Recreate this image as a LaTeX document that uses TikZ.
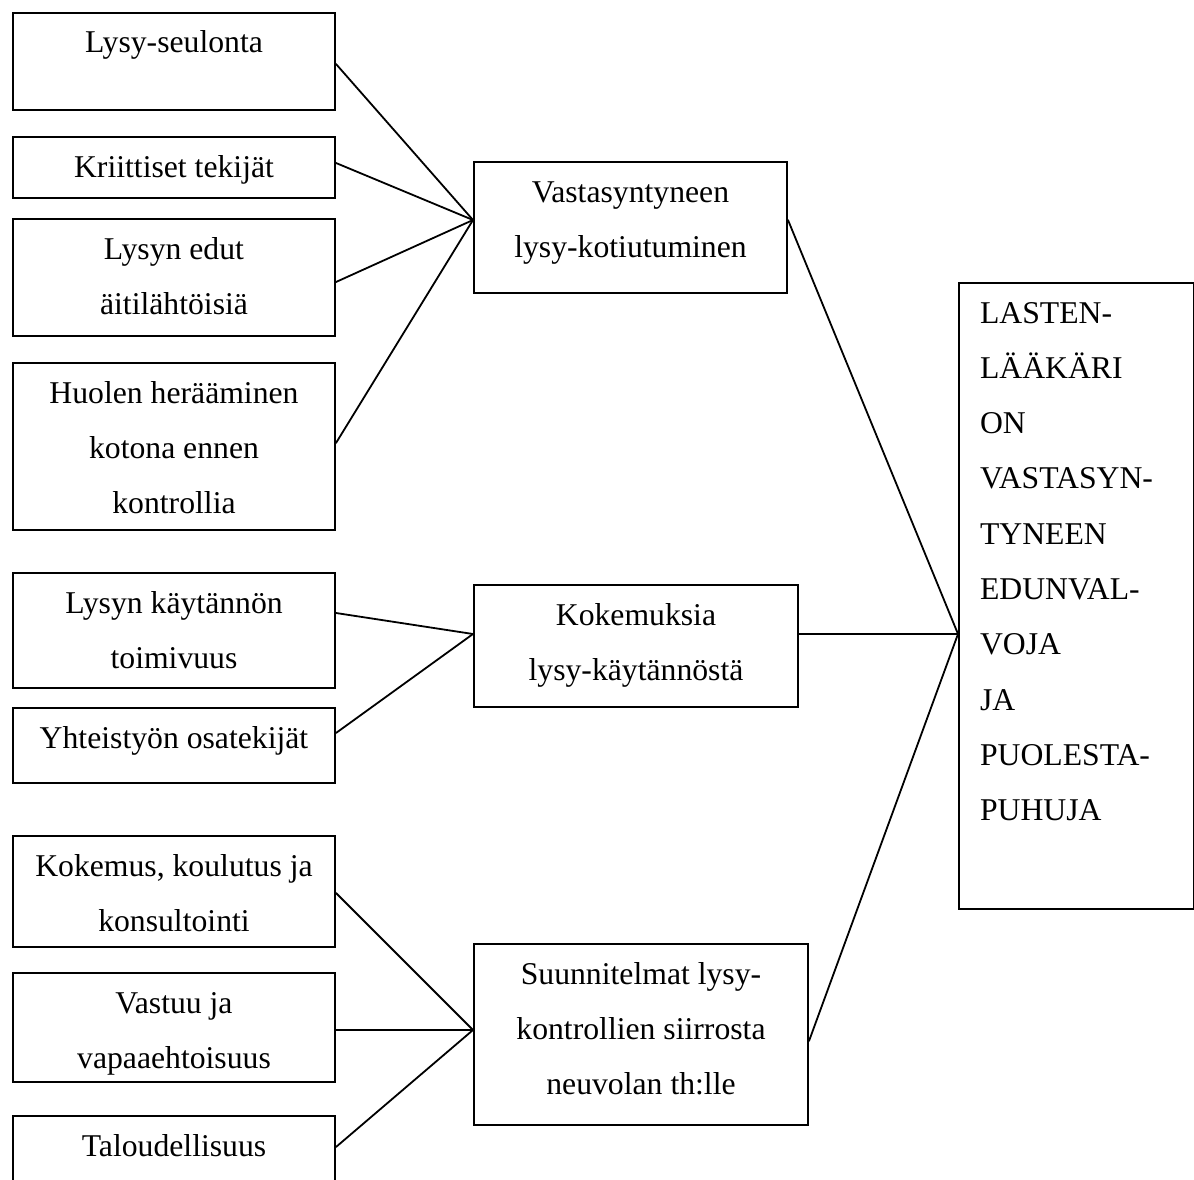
\documentclass[tikz,border=0pt]{standalone}
\usepackage{fontspec}
\setmainfont{Liberation Serif}
\newcommand{\boxtxt}[3]{\parbox[t][#2][t]{#1}{\centering\rule{0pt}{40pt}#3}}
\tikzset{
  boxnode/.style={draw, line width=2pt, inner sep=0pt, anchor=north west,
    font=\fontsize{31.7pt}{55.3pt}\selectfont},
  conn/.style={line width=1.8pt, line cap=round},
}
\begin{document}
\begin{tikzpicture}[x=1pt, y=-1pt]
\path[use as bounding box, fill=white] (0,0) rectangle (1194,1180);
\clip (0,0) rectangle (1194,1180);
% left column
\node[boxnode] (b1) at (12,12)   {\boxtxt{322pt}{97pt}{Lysy-seulonta}};
\node[boxnode] (b2) at (12,136)  {\boxtxt{322pt}{61pt}{Kriittiset tekijät}};
\node[boxnode] (b3) at (12,218)  {\boxtxt{322pt}{117pt}{Lysyn edut\\äitilähtöisiä}};
\node[boxnode] (b4) at (12,362)  {\boxtxt{322pt}{167pt}{Huolen herääminen\\kotona ennen\\kontrollia}};
\node[boxnode] (b5) at (12,572)  {\boxtxt{322pt}{115pt}{Lysyn käytännön\\toimivuus}};
\node[boxnode] (b6) at (12,707)  {\boxtxt{322pt}{75pt}{Yhteistyön osatekijät}};
\node[boxnode] (b7) at (12,835)  {\boxtxt{322pt}{111pt}{Kokemus, koulutus ja\\konsultointi}};
\node[boxnode] (b8) at (12,972)  {\boxtxt{322pt}{109pt}{Vastuu ja\\vapaaehtoisuus}};
\node[boxnode] (b9) at (12,1115) {\boxtxt{322pt}{85pt}{Taloudellisuus}};
% middle column
\node[boxnode] (m1) at (473,161) {\boxtxt{313pt}{131pt}{Vastasyntyneen\\lysy-kotiutuminen}};
\node[boxnode] (m2) at (473,584) {\boxtxt{324pt}{122pt}{Kokemuksia\\lysy-käytännöstä}};
\node[boxnode] (m3) at (473,943) {\boxtxt{334pt}{181pt}{Suunnitelmat lysy-\\kontrollien siirrosta\\neuvolan th:lle}};
% right box
\node[boxnode] (r) at (958,282) {\hspace*{21pt}\parbox[t][626pt][t]{214pt}{\raggedright\rule{0pt}{40pt}LASTEN-\\LÄÄKÄRI\\ON\\VASTASYN-\\TYNEEN\\EDUNVAL-\\VOJA\\JA\\PUOLESTA-\\PUHUJA}};
% convergence points
\coordinate (c1) at ([yshift=7.5pt]m1.west);
\coordinate (c2) at ([yshift=12pt]m2.west);
\coordinate (c3) at ([yshift=4.5pt]m3.west);
\coordinate (cr) at ([yshift=-38pt]r.west);
% connectors
\draw[conn] ([yshift=-2.5pt]b1.east) -- (c1);
\draw[conn] ([yshift=4.5pt]b2.east) -- (c1);
\draw[conn] ([yshift=-4.5pt]b3.east) -- (c1);
\draw[conn] ([yshift=3.5pt]b4.east) -- (c1);
\draw[conn] ([yshift=17.5pt]b5.east) -- (c2);
\draw[conn] ([yshift=12.5pt]b6.east) -- (c2);
\draw[conn] ([yshift=-1.5pt]b7.east) -- (c3);
\draw[conn] ([yshift=-2.5pt]b8.east) -- (c3);
\draw[conn] ([yshift=11.5pt]b9.east) -- (c3);
\draw[conn] ([yshift=7.5pt]m1.east) -- (cr);
\draw[conn] ([yshift=12pt]m2.east) -- (cr);
\draw[conn] ([yshift=-6.5pt]m3.east) -- (cr);
\end{tikzpicture}
\end{document}
